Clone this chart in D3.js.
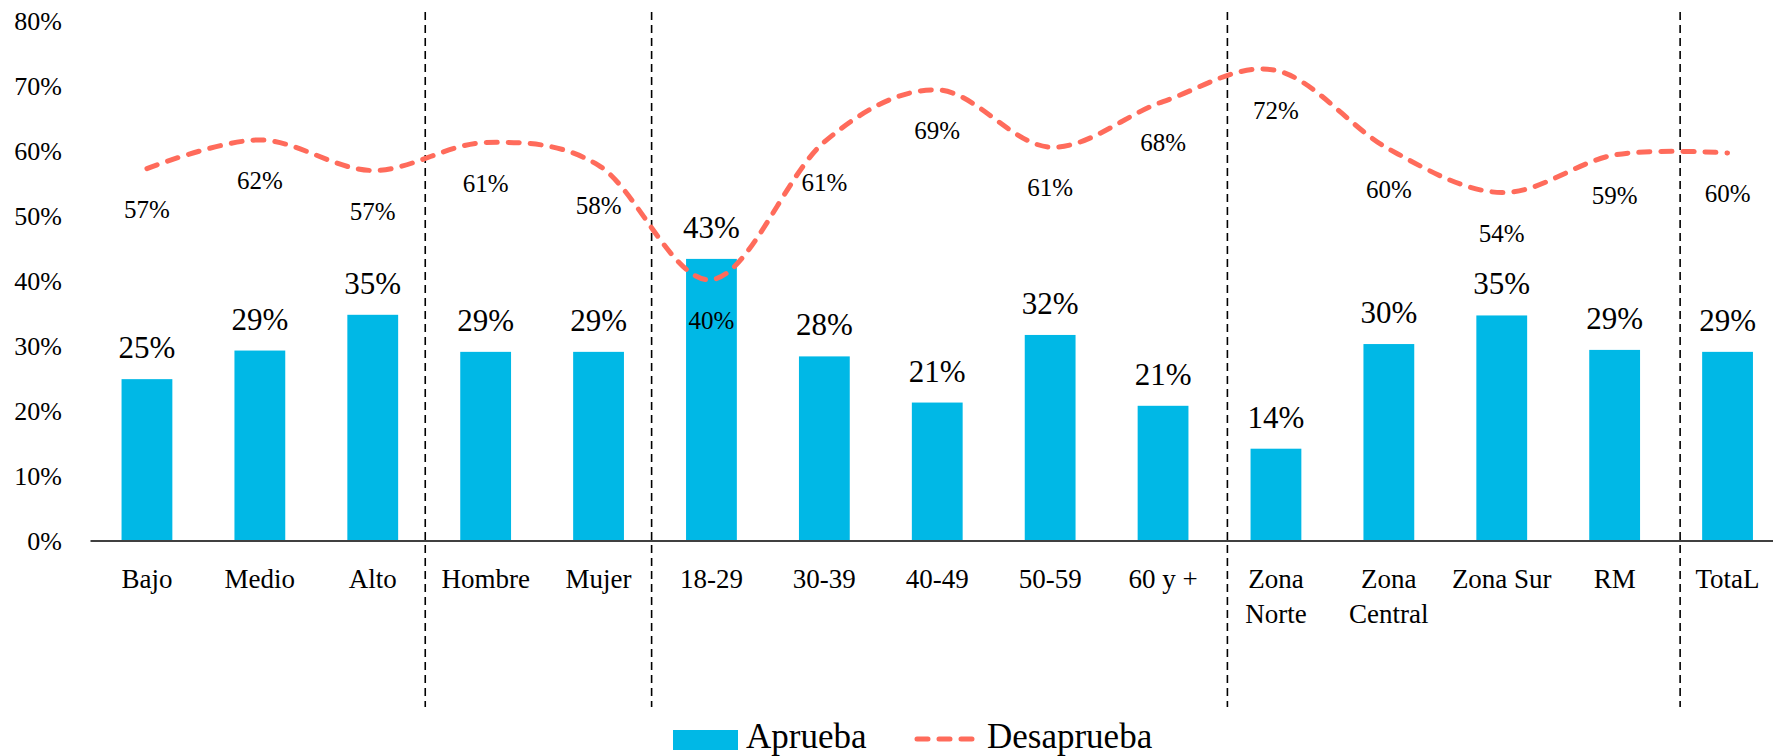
<html>
<head>
<meta charset="utf-8">
<script src="https://d3js.org/d3.v7.min.js"></script>
<style>
  body { margin: 0; background: #fff; }
  svg text { font-family: "Liberation Serif", serif !important; fill: #000; }
</style>
</head>
<body>
<svg width="1773" height="756" font-family="Liberation Serif"></svg>
<script>
// categories (multi-line labels split on \n)
var categories = ["Bajo", "Medio", "Alto", "Hombre", "Mujer", "18-29", "30-39", "40-49", "50-59", "60 y +",
                  "Zona\nNorte", "Zona\nCentral", "Zona Sur", "RM", "TotaL"];
var aprueba    = [24.9, 29.3, 34.8, 29.1, 29.1, 43.4, 28.4, 21.3, 31.7, 20.8, 14.2, 30.3, 34.7, 29.4, 29.1];
var desaprueba = [57.3, 61.7, 57.0, 61.3, 57.8, 40.2, 61.4, 69.4, 60.6, 67.6, 72.4, 60.3, 53.6, 59.4, 59.7];
var yTicks = [0, 10, 20, 30, 40, 50, 60, 70, 80];

var W = 1773, H = 756;
var plotLeft = 90.5, plotRight = 1784, plotTop = 21, plotBottom = 541;

var svg = d3.select("svg");

var x = d3.scaleBand().domain(categories).range([plotLeft, plotRight]).paddingInner(0.55).paddingOuter(0.275);
var step = x.step();
var cx = function(c) { return x(c) + x.bandwidth() / 2; };
var y = d3.scaleLinear().domain([0, 80]).range([plotBottom, plotTop]);

// y axis labels only
var yAxis = d3.axisLeft(y).tickValues(yTicks).tickFormat(function(d) { return d + "%"; }).tickSize(0).tickPadding(0);
var gy = svg.append("g").attr("transform", "translate(62,0)").call(yAxis);
gy.attr("font-family", null).attr("font-size", null);
gy.select(".domain").remove();
gy.selectAll("text").style("font-size", "26px").attr("fill", "#000");

// bars
svg.selectAll("rect.bar")
  .data(aprueba)
  .enter().append("rect")
  .attr("class", "bar")
  .attr("x", function(d, i) { return x(categories[i]); })
  .attr("width", x.bandwidth())
  .attr("y", function(d) { return y(d); })
  .attr("height", function(d) { return y(0) - y(d); })
  .attr("fill", "#00B8E6");

// x axis line
svg.append("line")
  .attr("x1", plotLeft).attr("x2", W)
  .attr("y1", y(0)).attr("y2", y(0))
  .attr("stroke", "#404040").attr("stroke-width", 2);

// dividers (positions in category units from left edge)
var dividers = [2.965, 4.97, 10.07, 14.08];
svg.selectAll("line.div")
  .data(dividers)
  .enter().append("line")
  .attr("class", "div")
  .attr("x1", function(d) { return plotLeft + d * step; })
  .attr("x2", function(d) { return plotLeft + d * step; })
  .attr("y1", 12).attr("y2", 707)
  .attr("stroke", "#000").attr("stroke-width", 1.6)
  .attr("stroke-dasharray", "8,5");

// desaprueba line
var line = d3.line()
  .x(function(d, i) { return cx(categories[i]); })
  .y(function(d) { return y(d); })
  .curve(d3.curveCardinal.tension(0));

svg.append("path")
  .datum(desaprueba)
  .attr("d", line)
  .attr("fill", "none")
  .attr("stroke", "#FF6B5B")
  .attr("stroke-width", 5)
  .attr("stroke-linecap", "round")
  .attr("stroke-dasharray", "11,11");

// bar labels
svg.selectAll("text.blab")
  .data(aprueba)
  .enter().append("text")
  .attr("class", "blab")
  .attr("x", function(d, i) { return cx(categories[i]); })
  .attr("y", function(d) { return y(d) - 21; })
  .attr("text-anchor", "middle")
  .style("font-size", "31px")
  .text(function(d) { return Math.round(d) + "%"; });

// line labels
svg.selectAll("text.llab")
  .data(desaprueba)
  .enter().append("text")
  .attr("class", "llab")
  .attr("x", function(d, i) { return cx(categories[i]); })
  .attr("y", function(d) { return y(d) + 49; })
  .attr("text-anchor", "middle")
  .style("font-size", "25px")
  .text(function(d) { return Math.round(d) + "%"; });

// category labels
var cl = svg.selectAll("text.cat")
  .data(categories)
  .enter().append("text")
  .attr("class", "cat")
  .attr("text-anchor", "middle")
  .style("font-size", "27px");
cl.each(function(c) {
  var parts = c.split("\n");
  var t = d3.select(this);
  parts.forEach(function(p, k) {
    t.append("tspan").attr("x", cx(c)).attr("y", 588 + k * 35).text(p);
  });
});

// legend
var lg = svg.append("g");
lg.append("rect").attr("x", 673).attr("y", 730).attr("width", 65).attr("height", 20).attr("fill", "#00B8E6");
lg.append("text").attr("x", 746).attr("y", 748).style("font-size", "35px").text("Aprueba");
lg.append("line").attr("x1", 917).attr("x2", 975).attr("y1", 739).attr("y2", 739)
  .attr("stroke", "#FF6B5B").attr("stroke-width", 5).attr("stroke-linecap", "round").attr("stroke-dasharray", "11,11");
lg.append("text").attr("x", 987).attr("y", 748).style("font-size", "35px").text("Desaprueba");
</script>
</body>
</html>
